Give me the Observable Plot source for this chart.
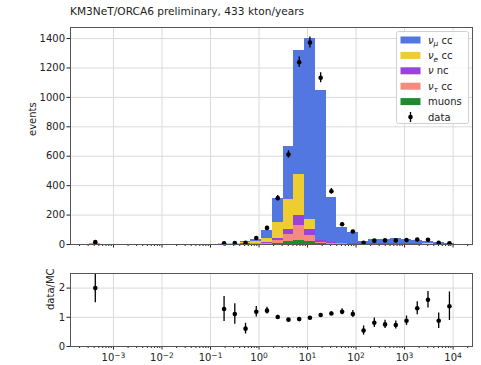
<!DOCTYPE html>
<html>
<head>
<meta charset="utf-8">
<script src="https://cdn.jsdelivr.net/npm/d3@7"></script>
<script src="https://cdn.jsdelivr.net/npm/@observablehq/plot@0.6"></script>
<style>
  body { margin: 0; background: #fff; font-family: "DejaVu Sans", sans-serif; }
  #wrap { position: relative; width: 481px; height: 365px; overflow: hidden; }
  #title { position: absolute; left: 70px; top: 5px; font-size: 10.6px; color: #222; white-space: nowrap; }
  #top { position: absolute; left: 0; top: 0; }
  #bottom { position: absolute; left: 0; top: 260px; }
  #legend { position: absolute; left: 396px; top: 31px; }
</style>
</head>
<body>
<div id="wrap">
  <div id="top"></div>
  <div id="bottom"></div>
  <div id="title">KM3NeT/ORCA6 preliminary, 433 kton/years</div>
  <div id="legend"></div>
</div>
<script>
// Logarithmic binning of the reconstructed variable
const logStart = -3.375;   // log10 centre of the first bin
const logStep = 0.2212;    // bin width in decades
const binIndex = [0, 12, 13, 14, 15, 16, 17, 18, 19, 20, 21, 22, 23, 24, 25, 26, 27, 28, 29, 30, 31, 32, 33];

// Expected events per bin for each MC component
const muons   = [2, 0.5, 0.5, 1, 1, 3, 8, 22, 28, 22, 8, 3, 2, 1, 0.5, 0.5, 0.5, 0.5, 0.5, 0.3, 0.3, 0.2, 0.1];
const nuTauCC = [4, 1.5, 1.5, 2, 3, 6, 22, 46, 99, 39, 7, 4, 2, 2, 1.5, 2, 2, 2, 2, 1.5, 1, 0.8, 0.4];
const nuNC    = [1, 1, 1, 2, 2, 5, 12, 32, 70, 39, 10, 5, 3, 2, 2, 3, 3.5, 3.5, 3, 2.5, 2, 1.2, 0.6];
const nuECC   = [0.5, 2, 3, 7, 15, 29, 110, 206, 277, 68, 5, 2, 1, 1, 0.5, 0.5, 0.5, 0.5, 0.5, 0.5, 0.3, 0.3, 0.2];
const nuMuCC  = [0.5, 2, 3, 6, 16, 49, 160, 359, 846, 1230, 1020, 306, 108, 73, 17.5, 26, 30.5, 31.5, 28, 21.2, 16.4, 10, 4.5];

// Observed events per bin
const dataCounts = [16, 9, 10, 11, 44, 113, 315, 612, 1239, 1373, 1133, 362, 138, 88, 12, 26, 28, 28, 30, 34, 32, 11, 8];

// Stack order, bottom to top
const compNames  = ["muons", "ντ cc", "ν nc", "νe cc", "νμ cc"];
const compValues = [muons, nuTauCC, nuNC, nuECC, nuMuCC];
const compColors = ["#1f8a2f", "#f58a7e", "#9a43d8", "#edcd31", "#5377e0"];

// Legend entries, top to bottom
const legendSub   = ["μ", "e", null, "τ", null, null];
const legendRest  = [" cc", " cc", " nc", " cc", "muons", "data"];
const legendIsNu  = [true, true, true, true, false, false];
const legendColor = ["#5377e0", "#edcd31", "#9a43d8", "#f58a7e", "#1f8a2f", null];

const eventTicks = [0, 200, 400, 600, 800, 1000, 1200, 1400];
const ratioTicks = [0, 1, 2];
const decadeExp = [-3, -2, -1, 0, 1, 2, 3, 4];

// ---- derived tables ----
const xDomain = [Math.pow(10, -3.886), Math.pow(10, 4.4)];
const decades = decadeExp.map(e => Math.pow(10, e));
const minorTicks = [];
for (let e = -4; e <= 4; e++) for (let m = 2; m <= 9; m++) {
  const v = m * Math.pow(10, e);
  if (v > xDomain[0] && v < xDomain[1]) minorTicks.push(v);
}

const rects = [];
const points = [];
binIndex.forEach((k, i) => {
  const c = logStart + k * logStep;
  const lo = Math.pow(10, c - logStep / 2);
  const hi = Math.pow(10, c + logStep / 2);
  let acc = 0;
  compValues.forEach((vals, j) => {
    const v = vals[i];
    if (v > 0) rects.push({x1: lo, x2: hi, y1: acc, y2: acc + v, comp: compNames[j]});
    acc += v;
  });
  const n = dataCounts[i];
  const err = Math.sqrt(n);
  points.push({
    x: Math.pow(10, c), n, lo: n - err, hi: n + err,
    ratio: n / acc, rlo: (n - err) / acc, rhi: (n + err) / acc
  });
});

// "10^e" tick labels; the exponent is raised into a tspan after rendering
const powerLabel = v => "10^" + String(Math.round(Math.log10(v))).replace("-", "−");
const intLabel = d => String(d);

const gridColor = "#dadada";
const frameColor = "#555";
const baseStyle = {fontFamily: "DejaVu Sans, sans-serif", fontSize: "10px", color: "#222", background: "transparent"};

// ---- event distribution ----
const topPlot = Plot.plot({
  width: 481, height: 252,
  marginLeft: 70, marginRight: 9, marginTop: 27, marginBottom: 8,
  style: baseStyle,
  x: {type: "log", domain: xDomain},
  y: {domain: [0, 1475]},
  color: {type: "ordinal", domain: compNames, range: compColors},
  marks: [
    Plot.gridX(decades, {stroke: gridColor, strokeOpacity: 1}),
    Plot.gridY(eventTicks, {stroke: gridColor, strokeOpacity: 1}),
    Plot.rect(rects, {x1: "x1", x2: "x2", y1: "y1", y2: "y2", fill: "comp", shapeRendering: "crispEdges"}),
    Plot.ruleX(points, {x: "x", y1: "lo", y2: "hi", stroke: "#000", strokeWidth: 1.3}),
    Plot.dot(points, {x: "x", y: "n", r: 2.3, fill: "#000"}),
    Plot.axisY({ticks: eventTicks, tickSize: 3.5, tickPadding: 2, tickFormat: intLabel, label: null}),
    Plot.axisX({ticks: decades, tickSize: 3.5, tickFormat: () => "", label: null}),
    Plot.axisX({ticks: minorTicks, tickSize: 2, tickFormat: () => "", label: null}),
    Plot.text(["events"], {frameAnchor: "left", dx: -38, rotate: -90, text: d => d, fontSize: 10, fill: "#222"}),
    Plot.frame({stroke: frameColor})
  ]
});
document.getElementById("top").appendChild(topPlot);

// ---- data / MC ratio ----
const bottomPlot = Plot.plot({
  width: 481, height: 105,
  marginLeft: 70, marginRight: 9, marginTop: 13, marginBottom: 19,
  style: baseStyle,
  x: {type: "log", domain: xDomain},
  y: {domain: [0, 2.5]},
  marks: [
    Plot.gridX(decades, {stroke: gridColor, strokeOpacity: 1}),
    Plot.gridY(ratioTicks, {stroke: gridColor, strokeOpacity: 1}),
    Plot.ruleX(points, {x: "x", y1: "rlo", y2: "rhi", stroke: "#000", strokeWidth: 1.3, clip: true}),
    Plot.dot(points, {x: "x", y: "ratio", r: 2.3, fill: "#000", clip: true}),
    Plot.axisY({ticks: ratioTicks, tickSize: 3.5, tickPadding: 2, tickFormat: intLabel, label: null}),
    Plot.axisX({ticks: decades, tickSize: 3.5, tickPadding: 4, tickFormat: powerLabel, label: null}),
    Plot.axisX({ticks: minorTicks, tickSize: 2, tickFormat: () => "", label: null}),
    Plot.text(["data/MC"], {frameAnchor: "left", dx: -20, rotate: -90, text: d => d, fontSize: 10, fill: "#222"}),
    Plot.frame({stroke: frameColor})
  ]
});
document.getElementById("bottom").appendChild(bottomPlot);

// raise the exponents of the power-of-ten labels
d3.select(bottomPlot).selectAll("text").each(function () {
  const s = this.textContent;
  if (!s.startsWith("10^")) return;
  const exp = s.slice(3);
  const el = d3.select(this);
  el.text(null);
  el.append("tspan").text("10");
  el.append("tspan").attr("dy", "-0.45em").attr("font-size", "7.5px").text(exp);
});

// ---- legend ----
(function drawLegend() {
  const W = 72, H = 92, rowH = 15.4, y0 = 9;
  const svg = d3.select("#legend").append("svg")
    .attr("width", W + 1).attr("height", H + 1)
    .style("font-family", "DejaVu Sans, sans-serif").style("font-size", "10px");
  svg.append("rect").attr("x", 0.5).attr("y", 0.5).attr("width", W).attr("height", H)
    .attr("rx", 2).attr("fill", "#fff").attr("fill-opacity", 0.85).attr("stroke", "#d0d0d0");
  legendRest.forEach((rest, i) => {
    const cy = y0 + i * rowH;
    if (legendColor[i]) {
      svg.append("rect").attr("x", 4.5).attr("y", cy - 3.5).attr("width", 20).attr("height", 7)
        .attr("fill", legendColor[i]);
    } else {
      svg.append("line").attr("x1", 14.5).attr("x2", 14.5).attr("y1", cy - 5).attr("y2", cy + 5)
        .attr("stroke", "#000").attr("stroke-width", 1.3);
      svg.append("circle").attr("cx", 14.5).attr("cy", cy).attr("r", 2.3).attr("fill", "#000");
    }
    const t = svg.append("text").attr("x", 32).attr("y", cy + 3.6).attr("fill", "#222");
    if (legendIsNu[i]) {
      t.append("tspan").attr("font-style", "italic").text("ν");
      if (legendSub[i]) {
        t.append("tspan").attr("font-style", "italic").attr("font-size", "7.5px").attr("dy", 2.5).text(legendSub[i]);
        t.append("tspan").attr("dy", -2.5).text(rest);
      } else {
        t.append("tspan").text(rest);
      }
    } else {
      t.text(rest);
    }
  });
})();
</script>
</body>
</html>
